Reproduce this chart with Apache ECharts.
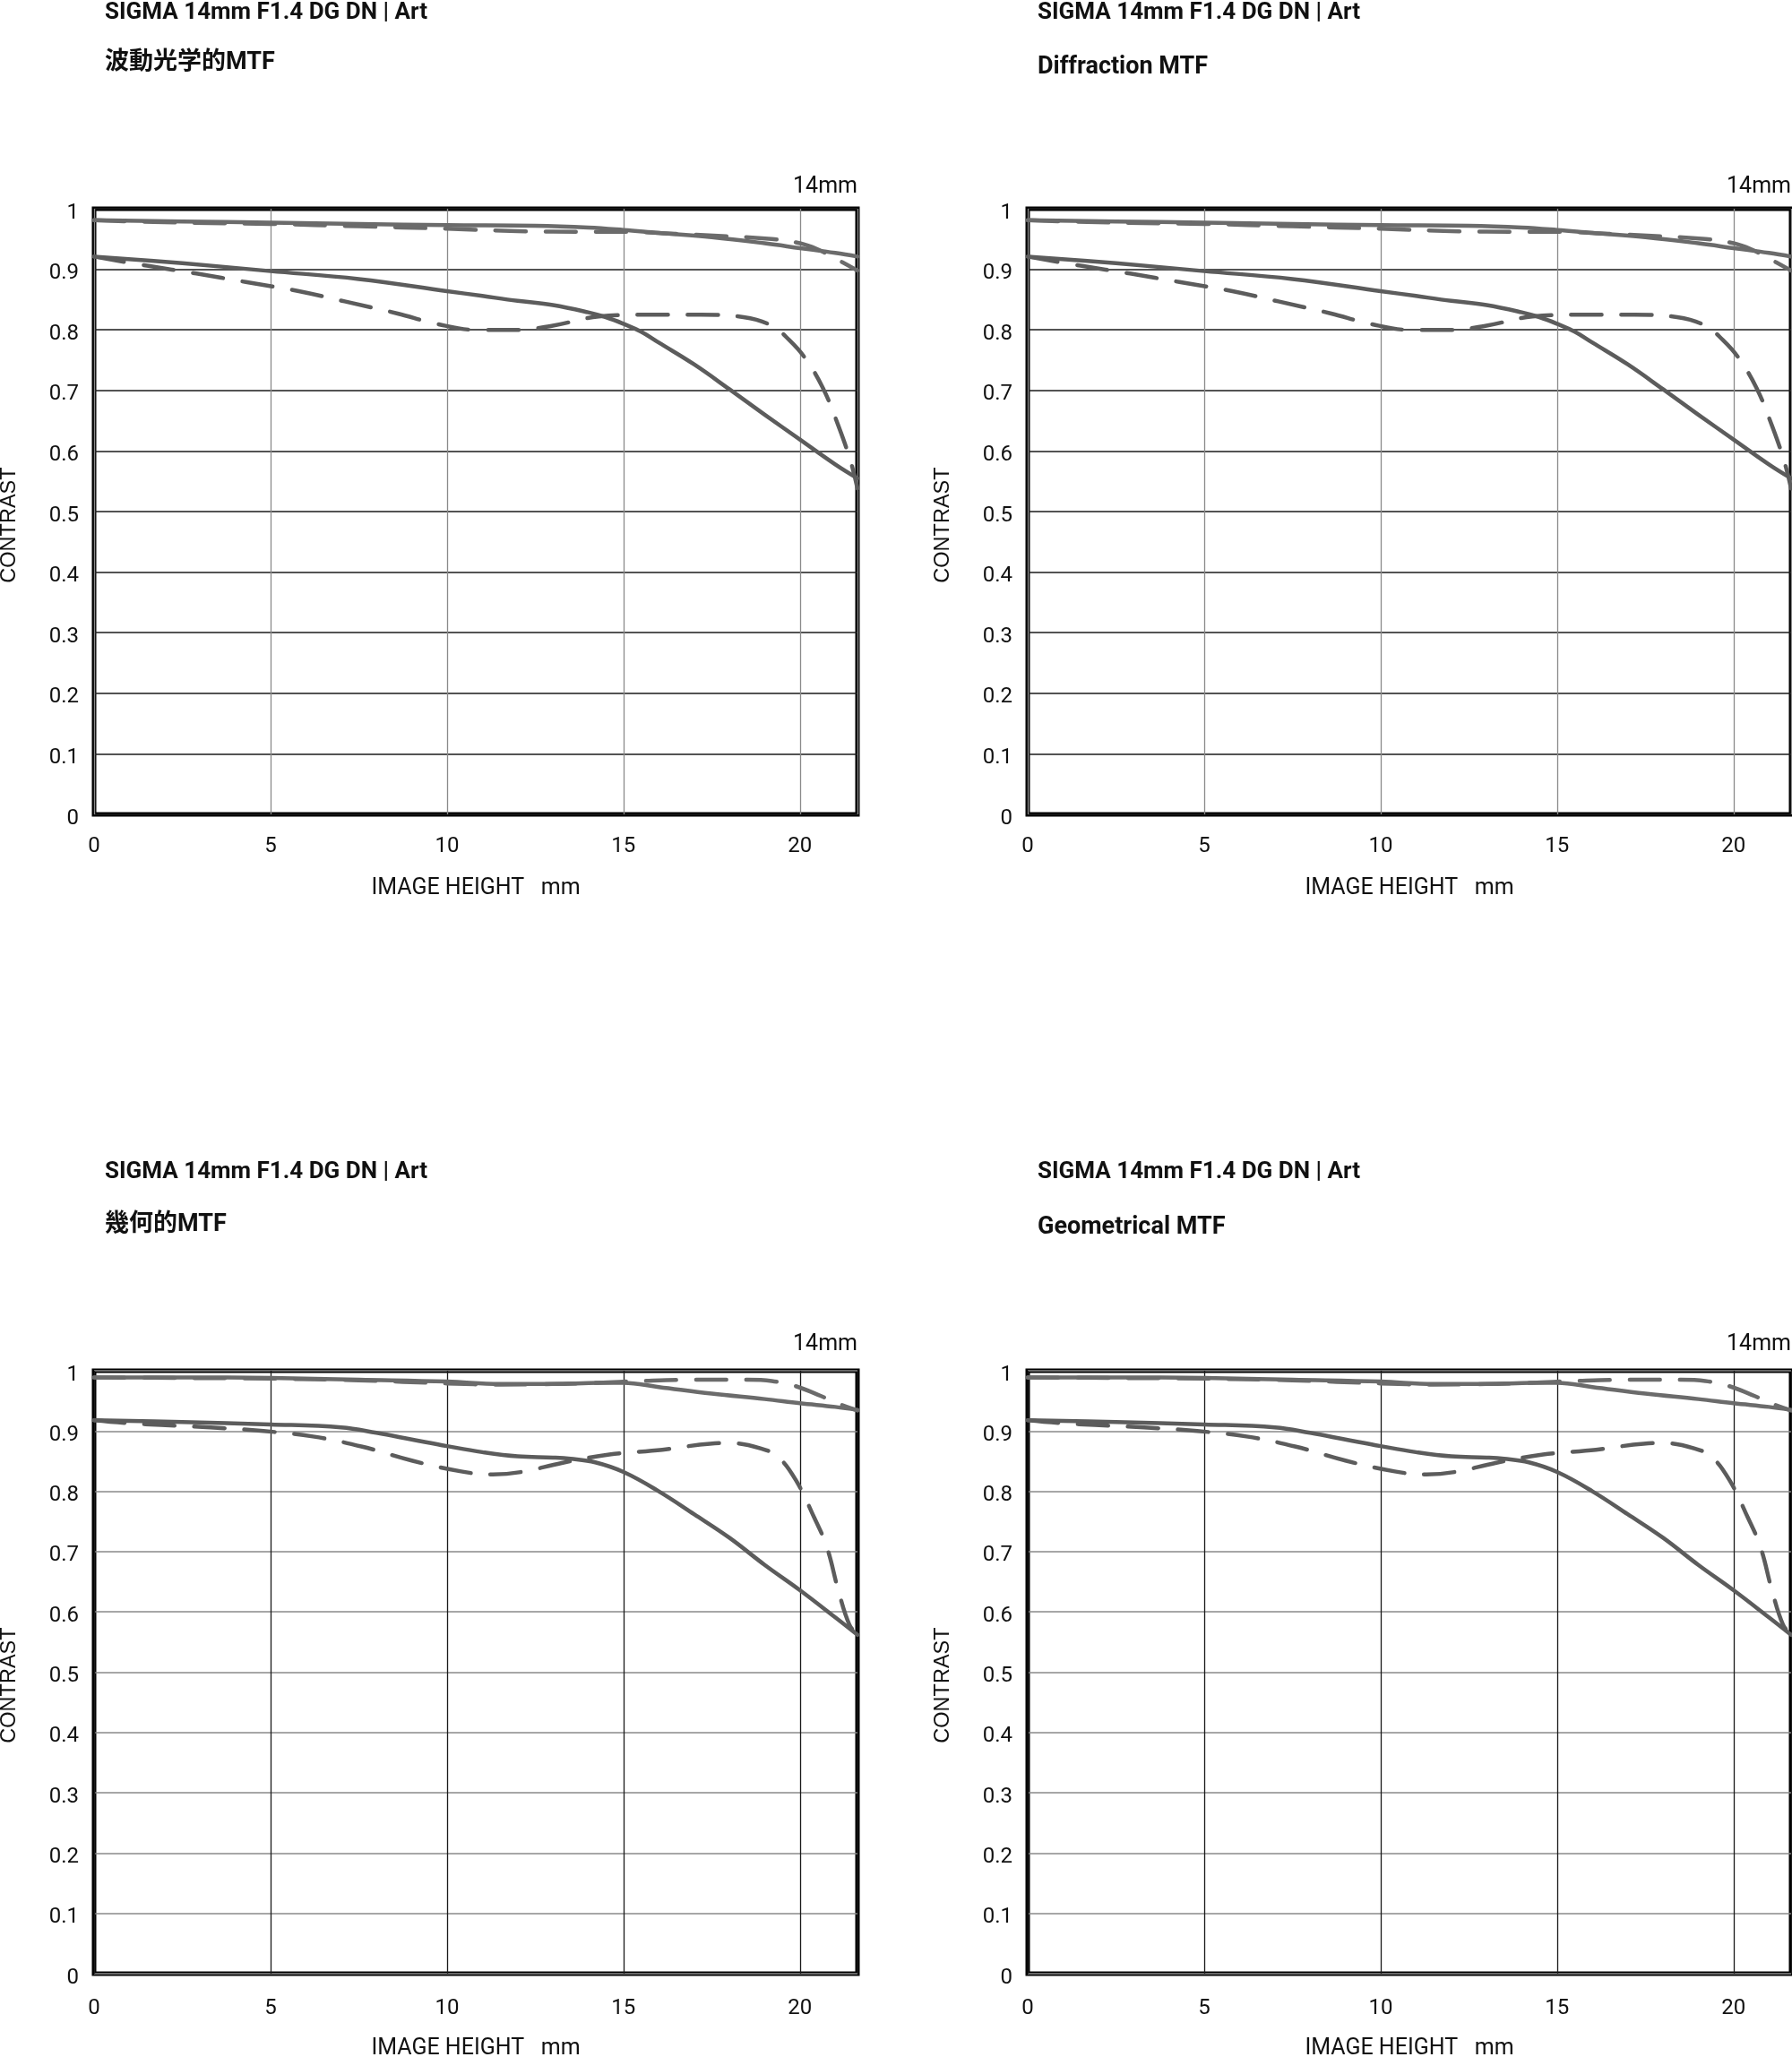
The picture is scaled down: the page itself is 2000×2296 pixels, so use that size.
<!DOCTYPE html>
<html>
<head>
<meta charset="utf-8">
<script src="https://cdn.jsdelivr.net/npm/echarts@6/dist/echarts.min.js"></script>
<style>
html,body{margin:0;padding:0;background:#fff;}
#c{width:2000px;height:2296px;}
</style>
</head>
<body>
<div id="c"></div>
<script>
// ---------- data ----------
const productName = 'SIGMA 14mm F1.4 DG DN | Art';
const chartSubtitles = ['波動光学的MTF', 'Diffraction MTF', '幾何的MTF', 'Geometrical MTF'];
const focalLabel = '14mm';
const xTicks = [0, 5, 10, 15, 20];
const yTicks = [0, 0.1, 0.2, 0.3, 0.4, 0.5, 0.6, 0.7, 0.8, 0.9, 1];
const xMaxMM = 21.63;

// Diffraction MTF  [image height mm, contrast]
const diff10S = [[0,0.981],[2.5,0.979],[5,0.977],[7.5,0.975],[10,0.973],[12.5,0.972],[14,0.969],[15,0.965],[16,0.960],[17.5,0.953],[19,0.943],[20,0.935],[21,0.927],[21.63,0.921]];
const diff10M = [[0,0.981],[2.5,0.977],[5,0.975],[7.5,0.971],[10,0.967],[12,0.963],[14,0.962],[15,0.962],[16.3,0.959],[17.8,0.955],[19.2,0.950],[20,0.943],[20.5,0.933],[21,0.918],[21.63,0.898]];
const diff30S = [[0,0.921],[2.5,0.910],[5,0.897],[7.5,0.884],[10,0.864],[11,0.856],[12,0.848],[13,0.841],[14,0.829],[14.5,0.821],[15,0.810],[15.5,0.797],[16,0.779],[17,0.743],[18,0.702],[19,0.660],[20,0.619],[21,0.578],[21.63,0.555]];
const diff30M = [[0,0.921],[1.5,0.906],[2.9,0.893],[4.3,0.879],[5.8,0.864],[7.1,0.847],[8.6,0.827],[9.7,0.810],[10.85,0.800],[12,0.800],[13,0.807],[14.3,0.822],[15.7,0.825],[17.2,0.825],[18.4,0.821],[19.2,0.807],[19.7,0.783],[20.15,0.753],[20.65,0.704],[21.1,0.640],[21.45,0.580],[21.63,0.538]];

// Geometrical MTF
const geo10S = [[0,0.989],[2.5,0.989],[5,0.988],[7.5,0.985],[10,0.982],[11.5,0.978],[13,0.978],[14.3,0.980],[15,0.980],[16,0.973],[17.5,0.962],[19,0.953],[20,0.946],[21,0.940],[21.63,0.935]];
const geo10M = [[0,0.989],[2.5,0.988],[5,0.987],[7.5,0.984],[10,0.979],[11.5,0.977],[13,0.978],[14.3,0.980],[15.5,0.983],[17,0.985],[18.5,0.985],[19.2,0.983],[19.85,0.975],[20.6,0.958],[21.1,0.945],[21.63,0.934]];
const geo30S = [[0,0.918],[2.5,0.915],[5,0.911],[7,0.906],[8,0.897],[9,0.886],[10,0.875],[11,0.865],[12,0.858],[13,0.856],[13.5,0.854],[14.2,0.848],[15,0.832],[16,0.800],[17,0.762],[18,0.723],[19,0.678],[20,0.636],[21,0.591],[21.63,0.562]];
const geo30M = [[0,0.918],[1,0.913],[1.9,0.910],[3.3,0.906],[4.8,0.900],[6.2,0.891],[7.6,0.874],[9,0.851],[10.4,0.833],[11.3,0.828],[12.1,0.832],[13.25,0.847],[14.6,0.861],[16.1,0.869],[17.45,0.879],[18,0.880],[18.9,0.871],[19.4,0.856],[19.9,0.817],[20.4,0.757],[20.76,0.708],[21.1,0.633],[21.4,0.579],[21.63,0.562]];

const panelCurves = [
  [diff10S, diff10M, diff30S, diff30M],
  [diff10S, diff10M, diff30S, diff30M],
  [geo10S, geo10M, geo30S, geo30M],
  [geo10S, geo10M, geo30S, geo30M]
];

// ---------- layout ----------
const panels = [
  {left:105,  top:233,  h:676, hColor:'#1a1a1a', vColor:'#8a8a8a', titleX:117,  titleY:16,   subY:73,   focalY:209,  labelMargin:24, nameGap:70, contrastY:586},
  {left:1147, top:233,  h:676, hColor:'#1a1a1a', vColor:'#8a8a8a', titleX:1158, titleY:16,   subY:78,   focalY:209,  labelMargin:24, nameGap:70, contrastY:586},
  {left:105,  top:1530, h:673, hColor:'#8a8a8a', vColor:'#1a1a1a', titleX:117,  titleY:1310, subY:1370, focalY:1501, labelMargin:27, nameGap:71, contrastY:1881},
  {left:1147, top:1530, h:673, hColor:'#8a8a8a', vColor:'#1a1a1a', titleX:1158, titleY:1310, subY:1373, focalY:1501, labelMargin:27, nameGap:71, contrastY:1881}
];
const W = 852;
const numFont = 'Roboto, "Liberation Sans", sans-serif';
const txtFont = 'Roboto, "Noto Sans CJK JP", sans-serif';

const grid = [], xAxis = [], yAxis = [], series = [], graphic = [];
panels.forEach((p, i) => {
  grid.push({left:p.left, top:p.top, width:W, height:p.h, show:true, borderColor:'#000', borderWidth:5,
    backgroundColor:'transparent', containLabel:false, outerBoundsMode:'none'});
  xAxis.push({
    type:'value', gridIndex:i, min:0, max:xMaxMM, interval:5,
    axisLine:{show:false}, axisTick:{show:false},
    splitLine:{show:true, lineStyle:{color:p.vColor, width:1.3}},
    axisLabel:{show:true, margin:p.labelMargin, fontSize:24, color:'#111', fontFamily:numFont, showMaxLabel:false,
      formatter: v => xTicks.indexOf(v) >= 0 ? String(v) : ''},
    name:'IMAGE HEIGHT   mm', nameLocation:'middle', nameGap:p.nameGap,
    nameTextStyle:{fontSize:25, color:'#111', fontFamily:numFont}
  });
  yAxis.push({
    type:'value', gridIndex:i, min:0, max:1, interval:0.1,
    axisLine:{show:false}, axisTick:{show:false},
    splitLine:{show:true, lineStyle:{color:p.hColor, width:1.6}},
    axisLabel:{show:true, margin:17, color:'#111',
      rich:{v:{fontSize:24, color:'#111', fontFamily:numFont, padding:[9,0,0,0]}},
      formatter: v => { const t = yTicks.find(k => Math.abs(k - v) < 1e-6); return t === undefined ? '' : '{v|' + (t === 0 ? '0' : t === 1 ? '1' : t.toFixed(1)) + '}'; }}
  });
  const curves = panelCurves[i];
  const styles = [
    {color:'#6b6b6b', type:'solid'},
    {color:'#6b6b6b', type:[34,22]},
    {color:'#5c5c5c', type:'solid'},
    {color:'#5c5c5c', type:[34,22]}
  ];
  const names = ['10lp/mm S', '10lp/mm M', '30lp/mm S', '30lp/mm M'];
  curves.forEach((c, k) => {
    series.push({
      type:'line', name:names[k], xAxisIndex:i, yAxisIndex:i, data:c,
      showSymbol:false, symbol:'none', smooth:0.4,
      lineStyle:{color:styles[k].color, width:4.5, type:styles[k].type, cap:'round', join:'round'},
      silent:true, animation:false, z:3
    });
  });
  graphic.push({type:'text', left:p.titleX, top:p.titleY - 15, style:{text:productName, fill:'#111', font:'bold 26px ' + txtFont}});
  graphic.push({type:'text', left:p.titleX, top:p.subY - 16, style:{text:chartSubtitles[i], fill:'#111', font:'bold 27px ' + txtFont}});
  graphic.push({type:'text', x:p.left + W, y:p.focalY, style:{text:focalLabel, fill:'#111', font:'25px ' + numFont, textAlign:'right', textVerticalAlign:'middle'}});
  graphic.push({type:'text', x:p.left - 94, y:p.contrastY, rotation:Math.PI/2, style:{text:'CONTRAST', fill:'#111', font:'23.5px "Liberation Sans", Arial, sans-serif', textAlign:'center', textVerticalAlign:'middle'}});
});

const chart = echarts.init(document.getElementById('c'), null, {renderer:'canvas'});
chart.setOption({animation:false, backgroundColor:'#fff', grid, xAxis, yAxis, series, graphic});
</script>
</body>
</html>
